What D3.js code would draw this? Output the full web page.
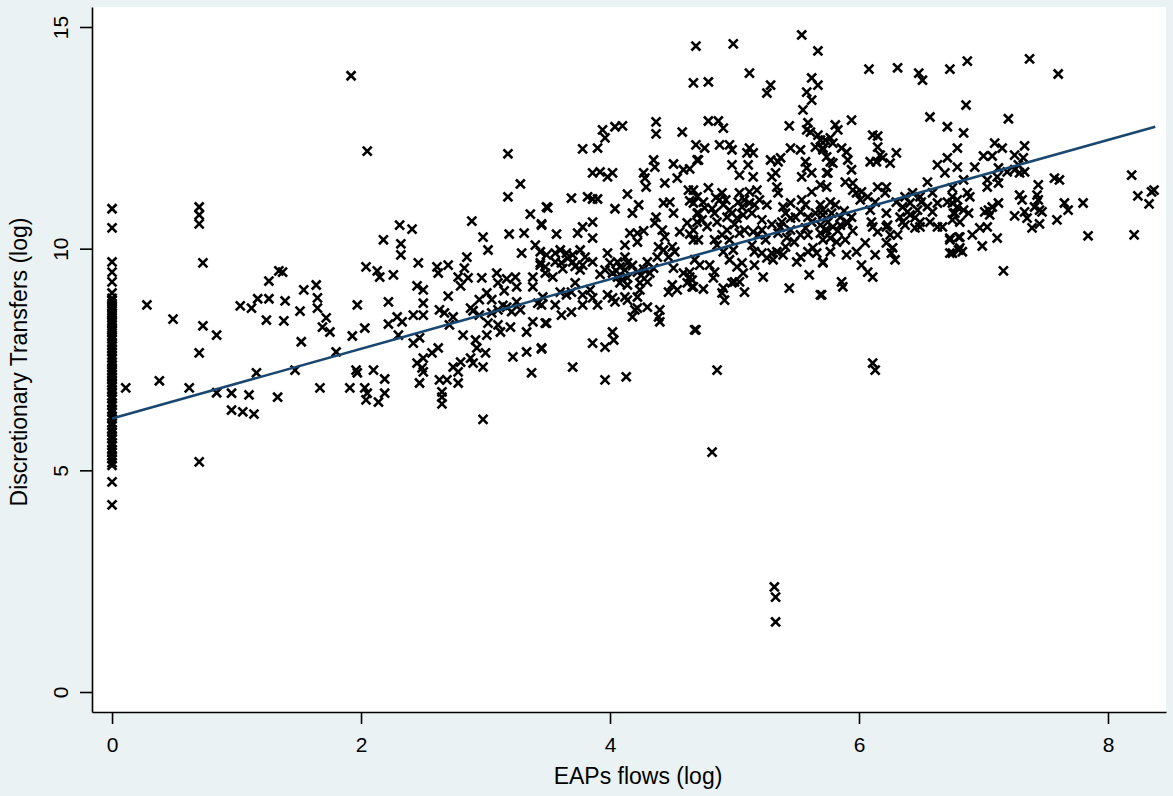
<!DOCTYPE html>
<html>
<head>
<meta charset="utf-8">
<script src="https://cdn.jsdelivr.net/npm/d3@7"></script>
<style>
body { margin: 0; background: #eaf2f3; }
text { font-family: "Liberation Sans", Arial, sans-serif; fill: #000; }
</style>
</head>
<body>
<div id="chart"></div>
<script>
var w = 1173;
var h = 796;

var xTicks = [0, 2, 4, 6, 8];
var yTicks = [0, 5, 10, 15];
var xTitle = 'EAPs flows (log)';
var yTitle = 'Discretionary Transfers (log)';

// observations with zero EAP flows (log = 0)
var zeroFlowY = [10.9, 10.47, 9.7, 9.47, 9.25, 9.0, 8.88, 8.83, 8.76, 8.7, 8.63, 8.55, 8.51, 8.43, 8.36, 8.31,
    8.22, 8.16, 8.1, 8.02, 7.96, 7.88, 7.81, 7.74, 7.67, 7.6, 7.53, 7.44, 7.38, 7.31, 7.25, 7.17, 7.1, 7.04,
    6.97, 6.9, 6.82, 6.76, 6.68, 6.61, 6.52, 6.46, 6.38, 6.31, 6.22, 6.16, 6.07, 6.01, 5.92, 5.86, 5.78,
    5.71, 5.62, 5.56, 5.47, 5.4, 5.33, 5.26, 5.17, 5.11, 4.74, 4.22];

// [EAPs flows (log), Discretionary Transfers (log)]
var obs = [
    [0.11,6.86],[1.92,13.9],[2.05,12.2],[0.70,10.94],[0.70,10.76],[0.70,10.56],[0.73,9.68],[2.04,9.59],[0.28,8.73],
    [0.49,8.41],[0.73,8.26],[0.84,8.05],[0.70,7.65],[0.38,7.02],[0.62,6.86],[0.84,6.75],[0.96,6.74],[1.10,6.70],
    [0.96,6.36],[1.05,6.32],[1.14,6.27],[1.33,6.65],[1.16,7.20],[1.47,7.26],[1.67,6.86],[1.91,6.86],[1.96,7.26],
    [1.97,7.2],[2.03,6.86],[2.05,6.74],[2.04,6.59],[0.70,5.19],[1.03,8.71],[1.12,8.66],[1.17,8.87],[1.26,8.87],
    [1.26,9.27],[1.34,9.50],[1.37,9.47],[1.39,8.82],[1.24,8.39],[1.38,8.37],[1.51,8.59],[1.54,9.07],[1.64,9.18],
    [1.65,8.89],[1.65,8.66],[1.72,8.44],[1.69,8.23],[1.75,8.12],[1.52,7.90],[1.80,7.67],[1.93,8.03],[2.03,8.21],
    [1.97,8.73],
    [3.28,11.46],[3.18,11.17],[3.36,10.78],[3.45,10.56],[3.49,10.94],[2.89,10.62],[2.31,10.53],[2.41,10.44],
    [2.18,10.20],[2.32,10.11],[2.32,9.86],[2.98,10.26],[3.19,10.33],[3.31,10.35],[3.02,9.97],[3.29,9.90],[3.40,10.08],
    [2.85,9.81],[2.46,9.68],[2.13,9.50],[2.15,9.36],[2.26,9.41],[2.61,9.59],[2.62,9.45],[2.70,9.63],[2.83,9.56],
    [2.78,9.36],[2.86,9.34],[2.97,9.34],[3.09,9.45],[3.17,9.32],[3.24,9.36],[3.38,9.36],[3.44,9.63],[2.80,9.16],
    [2.45,9.16],[2.50,9.07],[2.70,8.93],[3.10,9.23],[3.25,9.14],[3.38,9.14],[3.01,9.00],[2.88,8.66],[3.10,8.62],
    [3.17,8.68],[3.25,8.80],[3.42,8.77],[2.22,8.80],[2.50,8.77],[2.63,8.62],[2.67,8.55],[2.74,8.46],[2.42,8.50],
    [2.29,8.46],[2.33,8.35],[2.22,8.30],[2.50,8.50],[3.02,8.32],[3.10,8.28],[3.12,8.12],[3.20,8.23],[3.33,8.12],
    [3.38,8.35],[3.48,8.32],[2.71,8.28],[2.82,8.05],[3.01,8.05],[2.92,7.94],[2.30,8.05],[2.42,7.87],[2.47,7.99],
    [2.62,7.76],[2.57,7.65],[2.50,7.53],[2.45,7.42],[2.49,7.31],[2.50,7.22],[2.63,7.04],[2.69,7.04],[2.78,7.22],
    [2.74,7.33],[2.80,7.44],[2.88,7.53],[2.93,7.76],[3.00,7.65],[2.98,7.33],[2.90,7.42],[2.78,6.97],[2.65,6.77],
    [2.65,6.65],[2.65,6.50],[2.47,6.97],[3.22,7.56],[3.33,7.67],[3.37,7.20],[3.45,7.76],[2.98,6.15],[2.10,7.26],
    [2.19,7.06],[2.19,6.74],[2.14,6.54],[3.18,12.14],[3.14,8.72],[3.21,8.58],[3.05,8.55],[3.28,8.62],[2.90,8.60],
    [2.95,8.50],[3.05,8.85],[3.15,9.05],[2.95,8.85],
    [4.37,12.86],[4.37,12.59],[4.58,12.63],[3.94,12.68],[3.96,12.5],[4.04,12.75],[4.10,12.77],[3.78,12.25],[3.90,12.27],
    [4.69,12.34],[4.35,12.0],[4.36,11.84],[4.51,11.91],[4.59,11.78],[4.64,11.80],[4.70,12.0],[4.54,11.59],[4.44,11.48],
    [4.27,11.71],[4.28,11.59],[4.29,11.39],[3.86,11.71],[3.92,11.73],[3.98,11.62],[4.02,11.71],[4.14,11.23],[4.63,11.32],
    [4.64,11.08],[3.69,11.14],[3.82,11.17],[3.86,11.12],[3.90,11.12],[4.04,10.90],[4.18,10.80],[4.23,10.99],[4.43,11.03],
    [4.48,11.05],[4.51,10.80],[4.37,10.71],[4.36,10.58],[4.62,10.58],[4.70,10.80],[3.50,10.92],[3.45,10.53],[3.78,10.49],
    [3.74,10.35],[3.86,10.60],[3.57,10.33],[3.86,10.24],[4.16,10.35],[4.22,10.35],[4.27,10.40],[4.22,10.15],[4.12,10.08],
    [4.42,10.42],[4.44,10.26],[4.56,10.38],[4.64,10.33],[4.67,10.20],[4.39,10.04],[4.43,9.97],[4.50,10.04],[4.52,9.93],
    [4.38,9.81],[4.47,9.81],[3.44,9.93],[3.49,9.86],[3.56,9.90],[3.60,9.97],[3.65,9.90],[3.70,9.86],[3.76,9.97],
    [3.44,9.68],[3.48,9.59],[3.56,9.70],[3.61,9.68],[3.70,9.70],[3.78,9.63],[3.80,9.81],[3.86,9.70],[3.98,9.90],
    [4.00,9.68],[4.06,9.70],[4.08,9.59],[4.12,9.52],[4.14,9.68],[4.12,9.81],[3.48,9.45],[3.54,9.36],[3.76,9.52],
    [3.96,9.52],[4.02,9.45],[4.22,9.47],[4.27,9.54],[4.32,9.45],[4.35,9.56],[4.51,9.56],[4.59,9.45],[4.64,9.36],
    [4.62,9.23],[4.66,9.14],[4.06,9.36],[4.14,9.34],[4.08,9.23],[4.14,9.18],[4.24,9.23],[4.30,9.25],[3.72,9.23],
    [3.84,9.07],[3.60,9.02],[3.65,8.96],[3.69,9.02],[3.78,8.96],[3.86,8.89],[3.98,8.96],[4.02,8.89],[4.04,8.80],
    [4.12,8.91],[4.14,8.84],[4.24,9.07],[4.22,8.91],[4.47,9.02],[4.54,9.07],[4.50,9.18],[3.46,8.91],[3.45,8.73],
    [3.56,8.73],[3.78,8.73],[3.90,8.73],[3.61,8.50],[3.69,8.57],[4.20,8.62],[4.22,8.66],[4.18,8.46],[4.30,8.68],
    [4.40,8.62],[4.39,8.46],[4.40,8.35],[4.68,8.17],[3.49,8.32],[3.45,7.74],[3.86,7.87],[4.02,8.12],[4.03,7.94],
    [3.96,7.78],[3.70,7.33],[3.96,7.04],[4.13,7.11],[4.05,9.50],[4.18,9.62],[4.10,9.30],[4.25,9.40],[3.92,9.42],
    [4.30,9.70],[3.62,9.55],[3.66,9.78],[3.72,9.60],
    [4.69,14.57],[4.99,14.62],[5.54,14.82],[5.67,14.46],[5.12,13.96],[4.67,13.74],[4.79,13.76],[5.29,13.69],[5.26,13.51],
    [5.62,13.85],[5.67,13.69],[5.58,13.53],[5.62,13.35],[5.55,13.13],[4.79,12.88],[4.87,12.88],[4.91,12.72],[5.44,12.77],
    [5.59,12.84],[5.58,12.68],[5.61,12.63],[5.67,12.56],[4.76,12.27],[4.88,12.34],[4.96,12.34],[4.98,12.23],[5.12,12.27],
    [5.15,12.16],[5.10,12.16],[5.45,12.27],[5.53,12.23],[5.65,12.29],[5.71,12.23],[5.73,12.45],[4.71,12.0],[4.98,11.89],
    [5.11,11.89],[5.29,12.0],[5.37,12.05],[5.35,11.96],[5.57,11.96],[5.58,11.82],[5.04,11.66],[5.15,11.62],[5.30,11.62],
    [5.33,11.71],[5.54,11.62],[5.62,11.71],[5.74,11.71],[5.34,11.39],[5.35,11.26],[5.62,11.28],[4.67,11.32],[4.70,11.17],
    [4.79,11.37],[4.90,11.26],[4.88,11.10],[5.04,11.26],[5.08,11.10],[5.03,11.05],[5.12,11.28],[5.18,11.32],[5.20,11.10],
    [4.67,11.03],[4.75,11.05],[4.76,10.92],[4.91,10.99],[4.96,10.87],[5.06,10.94],[5.12,11.03],[5.16,10.99],[5.26,10.99],
    [5.45,11.03],[5.39,10.94],[5.54,11.10],[5.57,10.99],[5.53,10.83],[5.69,10.99],[4.71,10.80],[4.74,10.65],[4.70,10.60],
    [4.84,10.80],[4.86,10.60],[4.98,10.80],[4.94,10.71],[5.02,10.69],[5.07,10.76],[5.14,10.80],[5.22,10.65],[5.38,10.60],
    [5.45,10.69],[5.49,10.71],[5.41,10.80],[5.59,10.71],[5.65,10.80],[5.71,10.76],[4.82,10.90],[4.93,11.10],[4.78,10.50],
    [4.85,11.15],[5.00,10.55],
    [4.67,10.42],[4.71,10.20],[4.84,10.20],[4.90,10.31],[4.94,10.42],[4.96,10.20],[5.04,10.35],[5.08,10.42],[5.15,10.38],
    [5.19,10.31],[5.22,10.42],[5.37,10.49],[5.45,10.42],[5.53,10.31],[5.57,10.47],[5.59,10.31],[5.69,10.35],[5.74,10.42],
    [5.71,10.20],[4.86,10.08],[4.91,9.93],[4.99,9.97],[5.14,10.08],[5.16,9.93],[5.22,9.90],[5.26,9.79],[5.30,9.90],
    [5.34,9.93],[5.39,9.86],[5.41,10.04],[5.31,9.75],[5.50,9.70],[5.53,9.81],[5.59,9.93],[5.63,10.02],[5.66,9.90],
    [5.71,9.70],[4.68,9.75],[4.72,9.63],[4.64,9.47],[4.80,9.63],[4.84,9.47],[4.83,9.34],[4.96,9.75],[5.02,9.59],
    [5.06,9.68],[5.07,9.45],[5.04,9.25],[4.98,9.23],[5.00,9.25],[5.16,9.63],[5.23,9.36],[5.08,9.02],[4.91,9.11],
    [4.90,9.0],[4.92,8.84],[4.75,9.09],[4.66,9.29],[4.67,9.14],[5.44,9.11],[5.60,9.41],[5.69,8.96],[4.69,8.17],
    [4.86,7.26],[4.82,5.41],[5.32,2.37],[5.33,2.14],[5.33,1.58],[5.25,10.20],[5.30,10.55],[5.42,10.25],[5.48,10.15],
    [5.35,10.35],[5.62,10.60],[5.75,10.60],[5.83,10.40],[5.88,10.85],[5.95,10.40],
    [6.08,14.05],[6.31,14.08],[6.48,13.96],[6.51,13.80],[6.73,14.05],[6.57,12.97],[6.71,12.75],[5.94,12.90],[5.81,12.79],
    [5.83,12.68],[5.77,12.50],[5.79,12.38],[6.11,12.56],[6.15,12.54],[6.15,12.29],[5.69,12.45],[5.71,12.27],[5.74,12.07],
    [5.86,12.27],[5.90,12.18],[5.91,12.0],[5.94,11.78],[5.77,11.96],[5.79,11.93],[6.17,12.11],[6.19,12.05],[6.09,11.96],
    [6.14,11.96],[6.25,11.93],[6.30,12.16],[5.75,11.71],[6.63,11.89],[6.71,12.05],[6.69,11.71],[6.79,12.27],[5.89,11.50],
    [5.95,11.48],[5.95,11.32],[6.55,11.50],[5.69,11.44],[5.74,11.39],[6.15,11.39],[6.22,11.39],[6.21,11.26],[6.02,11.28],
    [6.07,11.17],[6.13,11.05],[5.98,11.26],[6.01,11.10],[6.37,11.17],[6.43,11.26],[6.49,11.17],[6.41,11.03],[6.35,10.94],
    [6.47,10.87],[6.39,10.83],[6.59,11.26],[6.63,11.03],[6.59,10.83],[6.71,11.05],[6.76,10.80],[6.75,10.65],[5.77,11.05],
    [5.81,10.99],[5.71,10.87],[5.78,10.80],[5.85,10.71],[5.90,10.60],[5.94,10.71],[6.09,10.87],[6.10,10.60],[6.22,10.80],
    [6.22,10.49],[6.33,10.71],[6.41,10.76],[6.49,10.49],[6.57,10.60],[6.63,10.49],[6.45,10.70],[6.55,10.95],[6.30,11.05],
    [6.50,11.05],
    [5.69,10.53],[5.73,10.42],[5.79,10.49],[5.85,10.53],[5.91,10.58],[5.77,10.24],[5.82,10.15],[5.89,10.20],[5.77,9.93],
    [5.90,9.86],[5.98,9.93],[6.05,10.13],[5.71,9.68],[6.02,9.63],[6.07,9.47],[6.11,9.36],[6.13,9.86],[6.11,10.49],
    [6.15,10.38],[6.23,10.53],[6.25,10.31],[6.22,10.13],[6.27,10.02],[6.26,9.90],[6.29,9.75],[6.31,10.31],[6.35,10.60],
    [6.37,10.53],[6.45,10.47],[6.49,10.60],[6.67,10.49],[6.73,10.24],[6.73,9.90],[6.80,10.26],[6.80,9.97],[5.86,9.25],
    [5.87,9.14],[5.70,8.96],[6.11,7.42],[6.13,7.26],
    [6.87,14.23],[7.37,14.28],[7.60,13.94],[6.86,13.24],[7.20,12.93],[6.84,12.61],[7.09,12.38],[7.15,12.27],[7.33,12.32],
    [7.25,12.11],[7.32,12.05],[7.00,12.09],[7.07,12.09],[6.93,11.84],[6.79,11.84],[7.12,11.82],[7.19,11.73],[7.25,11.78],
    [7.28,11.89],[7.29,11.71],[7.33,11.73],[6.84,11.55],[7.03,11.55],[7.11,11.62],[7.03,11.39],[7.12,11.48],[6.75,11.37],
    [6.75,11.17],[6.79,11.10],[6.87,11.26],[6.89,11.17],[7.44,11.44],[7.57,11.59],[7.61,11.55],[7.29,11.21],[7.31,11.10],
    [7.43,11.21],[7.44,11.10],[7.41,10.94],[7.45,10.87],[7.47,10.83],[7.12,11.03],[7.07,10.94],[7.04,10.87],[7.05,10.76],
    [7.01,10.83],[6.75,11.03],[6.79,10.94],[6.84,10.87],[6.88,10.80],[6.77,10.80],[6.81,10.60],[7.25,10.74],[7.33,10.83],
    [7.35,10.69],[7.39,10.47],[7.45,10.56],[7.65,11.03],[7.68,10.87],[7.59,10.65],[7.80,11.03],[8.19,11.66],[8.24,11.19],
    [8.33,11.01],[8.35,11.28],[8.37,11.32],[7.84,10.29],[8.21,10.31],[6.97,10.47],[7.03,10.49],[6.91,10.31],[6.81,10.26],
    [6.73,10.20],[7.11,10.24],[6.99,10.06],[6.81,10.02],[6.83,9.93],[6.75,9.90],[7.16,9.50]
];

// fitted line (linear fit), read at its two ends
var fitX = [0, 8.38];
var fitY = [6.17, 12.75];

var x = d3.scaleLinear().domain([-0.161, 8.466]).range([92, 1166]);
var y = d3.scaleLinear().domain([-0.451, 15.451]).range([712, 7]);

var svg = d3.select('#chart')
    .append('svg')
    .attr('width', w)
    .attr('height', h);

svg.append('rect')
    .attr('width', w)
    .attr('height', h)
    .attr('fill', '#eaf2f3');

svg.append('rect')
    .attr('x', x.range()[0])
    .attr('y', y.range()[1])
    .attr('width', x.range()[1] - x.range()[0])
    .attr('height', y.range()[0] - y.range()[1])
    .attr('fill', '#fff');

var points = zeroFlowY.map(function(v) { return [0, v]; }).concat(obs);

svg.append('g')
    .selectAll('path')
    .data(points)
    .enter()
    .append('path')
    .attr('d', d3.symbol(d3.symbolTimes, 54))
    .attr('transform', function(d) {
        return 'translate(' + x(d[0]) + ',' + y(d[1]) + ')';
    })
    .attr('fill', 'none')
    .attr('stroke', '#000')
    .attr('stroke-width', 2.6);

svg.append('path')
    .datum(fitX.map(function(v, i) { return [v, fitY[i]]; }))
    .attr('d', d3.line()
        .x(function(d) { return x(d[0]); })
        .y(function(d) { return y(d[1]); }))
    .attr('fill', 'none')
    .attr('stroke', '#1a476f')
    .attr('stroke-width', 2.6);

// axes
var xAxis = svg.append('g')
    .attr('transform', 'translate(0,' + y.range()[0] + ')')
    .call(d3.axisBottom(x).tickValues(xTicks).tickSize(12).tickSizeOuter(0));

var yAxis = svg.append('g')
    .attr('transform', 'translate(' + x.range()[0] + ',0)')
    .call(d3.axisLeft(y).tickValues(yTicks).tickSize(12).tickSizeOuter(0));

svg.selectAll('.domain, .tick line')
    .attr('stroke', '#000')
    .attr('stroke-width', 1.6);

xAxis.selectAll('text')
    .attr('y', 40)
    .attr('dy', 0)
    .attr('font-size', 21);

yAxis.selectAll('text')
    .attr('x', 0)
    .attr('dy', 0)
    .attr('text-anchor', 'middle')
    .attr('transform', 'translate(-24,0) rotate(-90)')
    .attr('font-size', 21);

svg.append('text')
    .attr('x', 638)
    .attr('y', 784)
    .attr('text-anchor', 'middle')
    .attr('font-size', 23)
    .text(xTitle);

svg.append('text')
    .attr('transform', 'translate(27,362) rotate(-90)')
    .attr('text-anchor', 'middle')
    .attr('font-size', 23)
    .text(yTitle);
</script>
</body>
</html>
